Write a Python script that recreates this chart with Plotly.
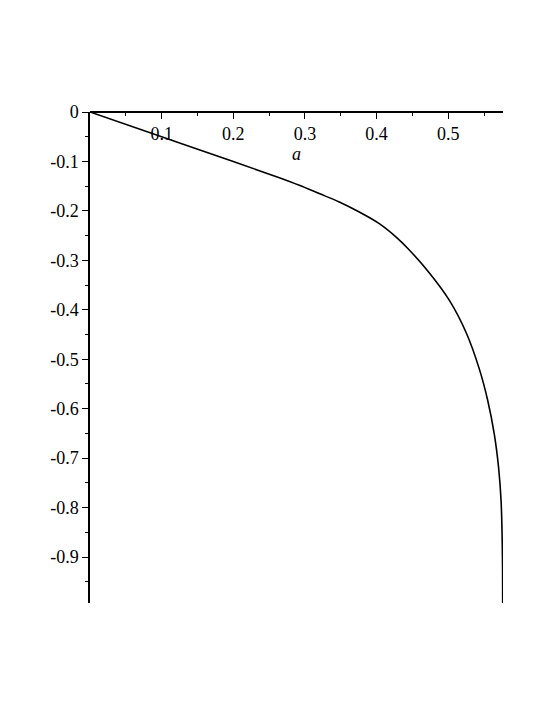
import plotly.graph_objects as go

# curve (a, value)
a_vals = [0.0, 0.1, 0.2, 0.2643, 0.2922, 0.32, 0.348, 0.3759, 0.4038, 0.4293,
          0.4457, 0.4735, 0.5017, 0.525, 0.5435, 0.5551, 0.5644, 0.5704,
          0.5738, 0.5752, 0.5759, 0.5761]
y_vals = [0.0, -0.05, -0.1, -0.133, -0.1483, -0.165, -0.182, -0.2023, -0.2258, -0.2555,
          -0.279, -0.325, -0.381, -0.446, -0.52, -0.583, -0.652, -0.720,
          -0.786, -0.853, -0.920, -0.993]

x_ticks = [0.1, 0.2, 0.3, 0.4, 0.5]
x_labels = ["0.1", "0.2", "0.3", "0.4", "0.5"]
y_ticks = [0, -0.1, -0.2, -0.3, -0.4, -0.5, -0.6, -0.7, -0.8, -0.9]
y_labels = ["0", "-0.1", "-0.2", "-0.3", "-0.4", "-0.5", "-0.6", "-0.7", "-0.8", "-0.9"]

fig = go.Figure()
fig.add_trace(go.Scatter(
    x=a_vals, y=y_vals, mode="lines",
    line=dict(color="black", width=1.6, shape="spline", smoothing=1.0),
    showlegend=False, hoverinfo="skip"
))

font = dict(family="Liberation Serif, Times New Roman, Times, serif", size=18, color="black")

fig.update_layout(
    width=545, height=705,
    margin=dict(l=82, r=50, t=104, b=110),
    paper_bgcolor="white", plot_bgcolor="white",
    font=font,
    xaxis=dict(
        range=[0, 0.5765], anchor="free", position=1, side="bottom",
        showline=True, linecolor="black", linewidth=1.5,
        showgrid=False, zeroline=False,
        tickmode="array", tickvals=x_ticks, ticktext=x_labels,
        ticks="outside", ticklen=6, tickwidth=1.2, tickcolor="black",
        minor=dict(tickmode="array", tickvals=[0.05, 0.15, 0.25, 0.35, 0.45, 0.55],
                   ticks="outside", ticklen=3, tickwidth=1.2, tickcolor="black"),
        title=dict(text="<i>a</i>", font=font, standoff=2),
    ),
    yaxis=dict(
        range=[-0.993, 0],
        showline=True, linecolor="black", linewidth=1.5,
        showgrid=False, zeroline=False,
        tickmode="array", tickvals=y_ticks, ticktext=y_labels,
        ticks="outside", ticklen=6, tickwidth=1.2, tickcolor="black",
        minor=dict(tickmode="array",
                   tickvals=[-0.05, -0.15, -0.25, -0.35, -0.45, -0.55, -0.65, -0.75, -0.85, -0.95],
                   ticks="outside", ticklen=3, tickwidth=1.2, tickcolor="black"),
    ),
)

fig.write_html("out.html")
